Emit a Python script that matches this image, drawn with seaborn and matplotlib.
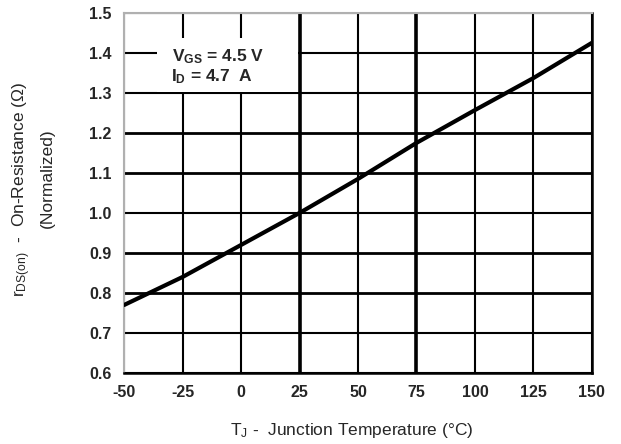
import matplotlib
matplotlib.use("Agg")
import matplotlib.pyplot as plt
import seaborn as sns
import pandas as pd
from matplotlib.patches import Rectangle

temperature_c = [-50, -25, 0, 25, 50, 75, 100, 125, 150]
rds_on_norm = [0.77, 0.84, 0.92, 1.00, 1.085, 1.175, 1.257, 1.337, 1.425]
x_ticks = [-50, -25, 0, 25, 50, 75, 100, 125, 150]
y_ticks = [0.6, 0.7, 0.8, 0.9, 1.0, 1.1, 1.2, 1.3, 1.4, 1.5]

sns.set_style("white")
plt.rcParams['font.family'] = ['Liberation Sans', 'DejaVu Sans']
plt.rcParams['mathtext.fontset'] = 'custom'
plt.rcParams['mathtext.rm'] = 'Liberation Sans'
plt.rcParams['mathtext.bf'] = 'Liberation Sans:bold'
plt.rcParams['mathtext.it'] = 'Liberation Sans:italic'

df = pd.DataFrame({"T": temperature_c, "R": rds_on_norm})

fig = plt.figure(figsize=(6.21, 4.44), dpi=100)
ax = fig.add_axes([0.200, 0.160, 0.753, 0.811])

sns.lineplot(data=df, x="T", y="R", ax=ax, color="black", linewidth=3.0, zorder=5)

ax.set_xlim(-50, 150)
ax.set_ylim(0.6, 1.5)
ax.set_xticks(x_ticks)
ax.set_yticks(y_ticks)
ax.set_xticklabels([str(v) for v in x_ticks], fontsize=11.5, fontweight="bold")
ax.set_yticklabels([f"{v:.1f}" for v in y_ticks], fontsize=11.5, fontweight="bold")
ax.tick_params(axis="both", length=0)
ax.tick_params(axis="y", pad=9)
ax.tick_params(axis="x", pad=9)

ax.grid(True, color="black", linewidth=1.5, zorder=1)
ax.set_axisbelow(True)
for v, gl in zip(x_ticks, ax.get_xgridlines()):
    if v in (25, 75):
        gl.set_linewidth(2.6)
for v, gl in zip(y_ticks, ax.get_ygridlines()):
    if v in (0.8, 0.9, 1.1, 1.2):
        gl.set_linewidth(2.0)

for side in ["left", "top"]:
    ax.spines[side].set_color("#b0b0b0")
    ax.spines[side].set_linewidth(1.5)
for side in ["right", "bottom"]:
    ax.spines[side].set_color("black")
    ax.spines[side].set_linewidth(1.8)

ax.add_patch(Rectangle((0.0705, 0.781), 0.301, 0.15, transform=ax.transAxes,
                       facecolor="white", edgecolor="none", zorder=3))
ax.text(0.1026, 0.878, r"$\mathbf{V_{GS}}$ = 4.5 V", transform=ax.transAxes,
        fontsize=12.5, fontweight="bold", va="center", ha="left", zorder=4)
ax.text(0.1000, 0.822, r"$\mathbf{I_{D}}$ = 4.7  A", transform=ax.transAxes,
        fontsize=12.5, fontweight="bold", va="center", ha="left", zorder=4)

ax.set_xlabel("")
ax.set_ylabel("")
fig.text(0.567, 1 - 430 / 444, r"T$_\mathregular{J}$ -  Junction Temperature (°C)",
         ha="center", va="center", fontsize=12.5)
fig.text(22 / 621, 1 - 189 / 444, r"r$_\mathregular{DS(on)}$  -  On-Resistance (Ω)",
         ha="center", va="center", rotation=90, fontsize=12.5)
fig.text(47 / 621, 1 - 178 / 444, "(Normalized)",
         ha="center", va="center", rotation=90, fontsize=12.5)

fig.savefig("out.png", dpi=100)
